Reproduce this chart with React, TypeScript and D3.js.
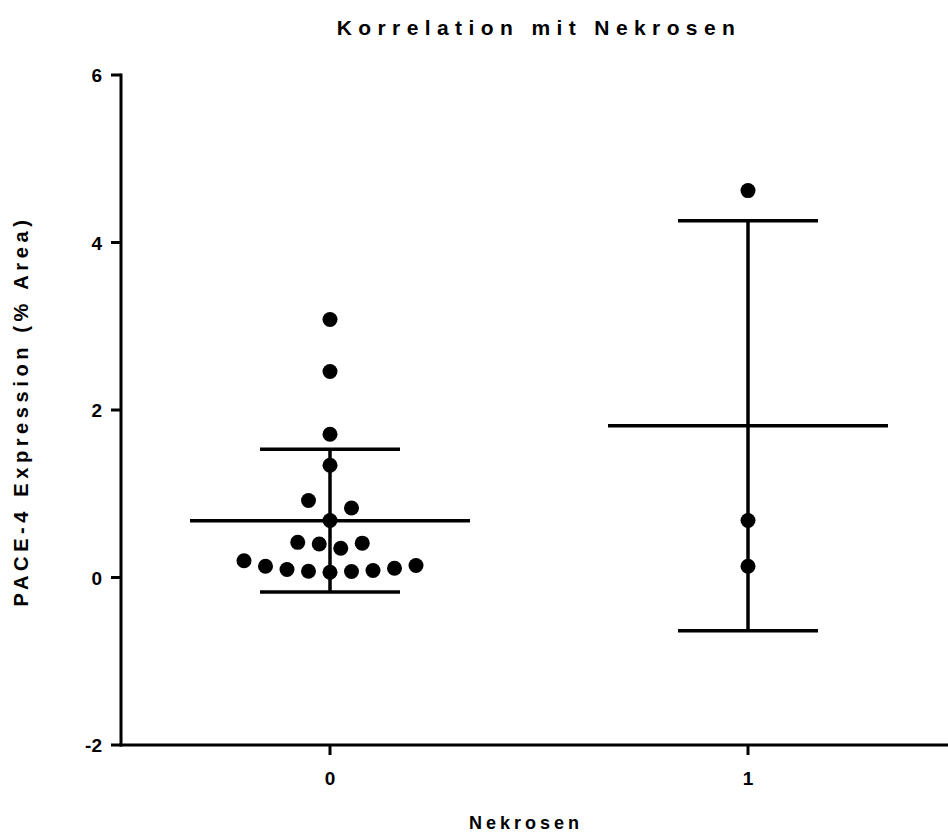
import React from "react";
import * as d3 from "d3";

// ---- data ----
const categories = ["0", "1"];
const group0Values = [
  3.08, 2.46, 1.71, 1.34, 0.92, 0.83, 0.68, 0.42, 0.4, 0.41, 0.35, 0.2, 0.135,
  0.095, 0.075, 0.063, 0.072, 0.084, 0.11, 0.143,
];
const group1Values = [4.62, 0.68, 0.135];
const yTicks = [-2, 0, 2, 4, 6];
const title = "Korrelation mit Nekrosen";
const xTitle = "Nekrosen";
const yTitle = "PACE-4 Expression (% Area)";

const W = 948;
const H = 836;
const FONT = "'Liberation Sans', Arial, Helvetica, sans-serif";

const x = d3.scaleLinear().domain([-0.5, 1.5]).range([121, 957]);
const y = d3.scaleLinear().domain([-2, 6]).range([745, 75]);

const R = 7.5;
const STEP = 21.5; // horizontal slot spacing
const ROW = 21.5; // row grouping threshold in px

function swarm(values: number[], cx: number) {
  const sorted = [...values].sort((a, b) => a - b);
  const rows: number[][] = [];
  let cur: number[] = [];
  let start = 0;
  sorted.forEach((v) => {
    const py = y(v);
    if (cur.length === 0) {
      cur = [v];
      start = py;
    } else if (Math.abs(start - py) <= ROW) {
      cur.push(v);
    } else {
      rows.push(cur);
      cur = [v];
      start = py;
    }
  });
  if (cur.length) rows.push(cur);
  const pts: { x: number; y: number }[] = [];
  rows.forEach((row) => {
    const n = row.length;
    row.forEach((v, i) => {
      let off: number;
      if (n % 2 === 1) {
        if (i === 0) off = 0;
        else {
          const k = Math.ceil(i / 2);
          off = i % 2 === 1 ? k : -k;
        }
      } else {
        const k = Math.floor(i / 2) + 0.5;
        off = i % 2 === 0 ? k : -k;
      }
      pts.push({ x: cx + off * STEP, y: y(v) });
    });
  });
  return pts;
}

function stats(values: number[]) {
  const m = d3.mean(values)!;
  const s = d3.deviation(values)!;
  return { m, s };
}

export default function App() {
  const groups = [group0Values, group1Values];
  return (
    <svg width={W} height={H} style={{ display: "block", position: "absolute", left: 0, top: 0 }}>
      <rect width={W} height={H} fill="#fff" />
      {/* title */}
      <text
        x={539}
        y={35}
        textAnchor="middle"
        fontFamily={FONT}
        fontWeight="bold"
        fontSize={21}
        letterSpacing={6.4}
      >
        {title}
      </text>

      {/* error bars and means */}
      {groups.map((vals, gi) => {
        const { m, s } = stats(vals);
        const cx = x(gi);
        return (
          <g key={"e" + gi} stroke="#000" strokeWidth={3.5}>
            <line x1={cx} x2={cx} y1={y(m + s)} y2={y(m - s)} />
            <line x1={cx - 70} x2={cx + 70} y1={y(m + s)} y2={y(m + s)} />
            <line x1={cx - 70} x2={cx + 70} y1={y(m - s)} y2={y(m - s)} />
            <line x1={cx - 140} x2={cx + 140} y1={y(m)} y2={y(m)} />
          </g>
        );
      })}

      {/* points */}
      {groups.map((vals, gi) =>
        swarm(vals, x(gi)).map((p, i) => (
          <circle key={gi + "-" + i} cx={p.x} cy={p.y} r={R} fill="#000" />
        ))
      )}

      {/* y axis */}
      <line x1={x(-0.5)} x2={x(-0.5)} y1={y(6) - 1.5} y2={y(-2) + 1.5} stroke="#000" strokeWidth={3} />
      {yTicks.map((t) => (
        <g key={"yt" + t}>
          <line x1={x(-0.5) - 10} x2={x(-0.5)} y1={y(t)} y2={y(t)} stroke="#000" strokeWidth={3} />
          <text
            x={x(-0.5) - 19}
            y={y(t) + 7}
            textAnchor="end"
            fontFamily={FONT}
            fontWeight="bold"
            fontSize={19}
          >
            {t}
          </text>
        </g>
      ))}

      {/* x axis */}
      <line x1={x(-0.5) - 1.5} x2={x(1.5)} y1={y(-2)} y2={y(-2)} stroke="#000" strokeWidth={3} />
      {categories.map((c, i) => (
        <g key={"xt" + c}>
          <line x1={x(i)} x2={x(i)} y1={y(-2)} y2={y(-2) + 10} stroke="#000" strokeWidth={3} />
          <text
            x={x(i)}
            y={y(-2) + 40}
            textAnchor="middle"
            fontFamily={FONT}
            fontWeight="bold"
            fontSize={19}
          >
            {c}
          </text>
        </g>
      ))}

      <text
        x={526}
        y={829}
        textAnchor="middle"
        fontFamily={FONT}
        fontWeight="bold"
        fontSize={18}
        letterSpacing={4}
      >
        {xTitle}
      </text>
      <text
        transform={`translate(28,${411}) rotate(-90)`}
        textAnchor="middle"
        fontFamily={FONT}
        fontWeight="bold"
        fontSize={20}
        letterSpacing={4.6}
      >
        {yTitle}
      </text>
    </svg>
  );
}
